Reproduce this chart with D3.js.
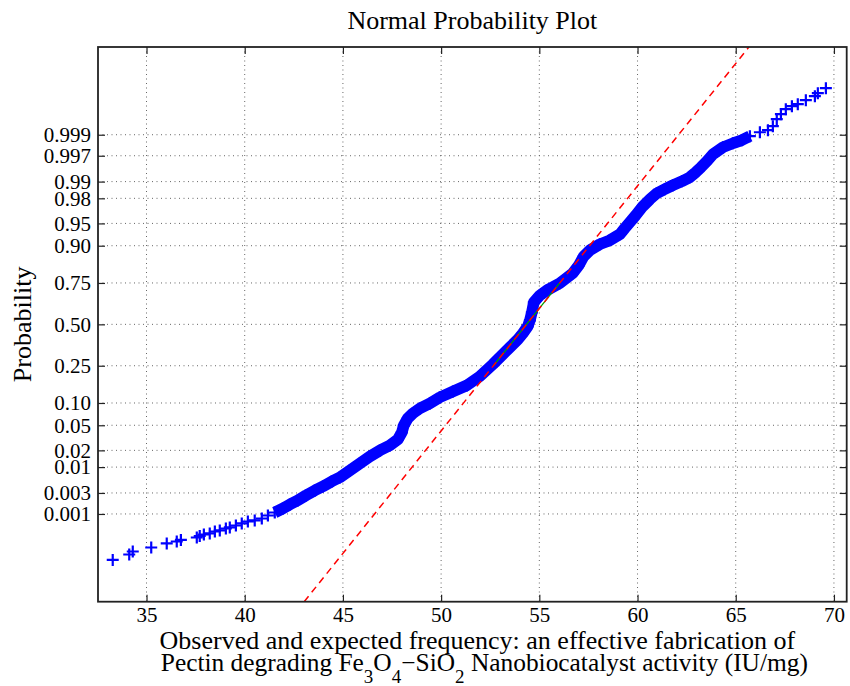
<!DOCTYPE html>
<html>
<head>
<meta charset="utf-8">
<script src="https://cdn.jsdelivr.net/npm/d3@7"></script>
<style>
  html, body { margin: 0; padding: 0; background: #fff; }
  svg text { font-family: "Liberation Serif", "Times New Roman", serif; fill: #000; }
</style>
</head>
<body>
<svg id="chart" width="850" height="686"></svg>
<script>
// Sorted activity values (IU/mg) and their normal scores (plotting positions on the z scale)
const activity = [
  33.28, 34.12, 34.30, 35.24, 36.03, 36.54, 36.75, 37.56, 37.71, 37.92,
  38.22, 38.48, 38.73, 39.04, 39.24, 39.55, 39.85, 40.16, 40.51, 40.87,
  41.18, 41.53, 41.94, 42.30, 42.70, 43.11, 43.57, 43.98, 44.43, 44.84,
  45.35, 45.86, 46.37, 46.88, 47.39, 47.80, 48.00, 48.10, 48.30, 48.56,
  48.92, 49.43, 49.93, 50.60, 51.31, 51.97, 52.63, 53.09, 53.50, 53.91,
  54.16, 54.41, 54.52, 54.62, 54.72, 55.03, 55.38, 56.04, 56.70, 57.01,
  57.26, 57.57, 58.08, 58.59, 59.10, 59.35, 59.61, 59.91, 60.27, 60.63,
  60.98, 61.39, 61.80, 62.26, 62.66, 62.97, 63.23, 63.53, 63.84, 64.35,
  64.86, 65.31, 65.72, 66.23, 66.64, 66.89, 67.09, 67.30, 67.55, 67.86,
  68.16, 68.57, 69.03, 69.18, 69.59
];
const normalScore = [
  -3.840, -3.751, -3.702, -3.637, -3.571, -3.539, -3.514, -3.474, -3.449, -3.425,
  -3.408, -3.376, -3.359, -3.327, -3.310, -3.278, -3.245, -3.213, -3.196, -3.164,
  -3.115, -3.066, -3.001, -2.935, -2.870, -2.789, -2.707, -2.642, -2.560, -2.495,
  -2.381, -2.267, -2.153, -2.055, -1.973, -1.875, -1.761, -1.647, -1.533, -1.451,
  -1.370, -1.288, -1.190, -1.093, -0.995, -0.848, -0.652, -0.506, -0.375, -0.245,
  -0.147, -0.033, 0.065, 0.196, 0.359, 0.473, 0.554, 0.669, 0.832, 0.962,
  1.109, 1.207, 1.305, 1.370, 1.468, 1.566, 1.663, 1.778, 1.924, 2.038,
  2.136, 2.202, 2.267, 2.332, 2.397, 2.479, 2.560, 2.658, 2.772, 2.886,
  2.952, 3.001, 3.066, 3.131, 3.164, 3.229, 3.343, 3.425, 3.506, 3.555,
  3.588, 3.653, 3.718, 3.767, 3.849
];

// Reference line through the first and third quartiles
const fitMean = 54.35;
const fitSigma = 2.505;
const quartileProbs = [0.25, 0.75];

const xTicks = [35, 40, 45, 50, 55, 60, 65, 70];
const probTicks = [0.001, 0.003, 0.01, 0.02, 0.05, 0.10, 0.25, 0.50, 0.75, 0.90, 0.95, 0.98, 0.99, 0.997, 0.999];
const probTickLabels = ["0.001", "0.003", "0.01", "0.02", "0.05", "0.10", "0.25", "0.50", "0.75", "0.90", "0.95", "0.98", "0.99", "0.997", "0.999"];

// Inverse standard normal CDF (Acklam's rational approximation)
function norminv(p) {
  const a = [-3.969683028665376e+01, 2.209460984245205e+02, -2.759285104469687e+02, 1.383577518672690e+02, -3.066479806614716e+01, 2.506628277459239e+00];
  const b = [-5.447609879822406e+01, 1.615858368580409e+02, -1.556989798598866e+02, 6.680131188771972e+01, -1.328068155288572e+01];
  const c = [-7.784894002430293e-03, -3.223964580411365e-01, -2.400758277161838e+00, -2.549732539343734e+00, 4.374664141464968e+00, 2.938163982698783e+00];
  const d = [7.784695709041462e-03, 3.224671290700398e-01, 2.445134137142996e+00, 3.754408661907416e+00];
  const pl = 0.02425;
  if (p < pl) {
    const q = Math.sqrt(-2 * Math.log(p));
    return (((((c[0]*q+c[1])*q+c[2])*q+c[3])*q+c[4])*q+c[5]) / ((((d[0]*q+d[1])*q+d[2])*q+d[3])*q+1);
  }
  if (p > 1 - pl) {
    const q = Math.sqrt(-2 * Math.log(1 - p));
    return -(((((c[0]*q+c[1])*q+c[2])*q+c[3])*q+c[4])*q+c[5]) / ((((d[0]*q+d[1])*q+d[2])*q+d[3])*q+1);
  }
  const q = p - 0.5, r = q * q;
  return (((((a[0]*r+a[1])*r+a[2])*r+a[3])*r+a[4])*r+a[5])*q / (((((b[0]*r+b[1])*r+b[2])*r+b[3])*r+b[4])*r+1);
}

const margin = { left: 98, right: 3.3, top: 47, bottom: 84.3 };
const W = 850, H = 686;
const plotW = W - margin.left - margin.right;
const plotH = H - margin.top - margin.bottom;

const svg = d3.select("#chart");
const g = svg.append("g").attr("transform", `translate(${margin.left},${margin.top})`);

const x = d3.scaleLinear().domain([32.53, 70.65]).range([0, plotW]);
const y = d3.scaleLinear().domain([-4.52, 4.52]).range([plotH, 0]);

const points = activity.map((v, i) => ({ v, z: normalScore[i] }));

// Dotted grid
const grid = g.append("g").attr("stroke", "#666").attr("stroke-width", 1).attr("stroke-dasharray", "1,3.5");
grid.selectAll("line.gx").data(xTicks).join("line")
  .attr("x1", d => x(d)).attr("x2", d => x(d)).attr("y1", 0).attr("y2", plotH);
grid.selectAll("line.gy").data(probTicks).join("line")
  .attr("y1", d => y(norminv(d))).attr("y2", d => y(norminv(d))).attr("x1", 0).attr("x2", plotW);

svg.append("defs").append("clipPath").attr("id", "plotclip")
  .append("rect").attr("width", plotW).attr("height", plotH);
const plot = g.append("g").attr("clip-path", "url(#plotclip)");

// Dense stretch of overlapping markers
const bandLimits = [-3.07, 3.07];
const line = d3.line().x(d => x(d.v)).y(d => y(d.z));
plot.append("path")
  .datum(points.filter(d => d.z >= bandLimits[0] && d.z <= bandLimits[1]))
  .attr("d", line)
  .attr("fill", "none").attr("stroke", "#0000ff").attr("stroke-width", 11.5)
  .attr("stroke-linejoin", "round");

// '+' markers
const arm = 6;
plot.append("g").selectAll("path").data(points).join("path")
  .attr("d", d => `M${x(d.v) - arm},${y(d.z)}H${x(d.v) + arm}M${x(d.v)},${y(d.z) - arm}V${y(d.z) + arm}`)
  .attr("stroke", "#0000ff").attr("stroke-width", 2.2).attr("fill", "none");

// Quartile segment (solid) and its dashed extension
const zq = quartileProbs.map(norminv);
plot.append("line")
  .attr("x1", x(fitMean + fitSigma * zq[0])).attr("y1", y(zq[0]))
  .attr("x2", x(fitMean + fitSigma * zq[1])).attr("y2", y(zq[1]))
  .attr("stroke", "#00a000").attr("stroke-width", 1.3);
const zEnds = y.domain();
plot.append("line")
  .attr("x1", x(fitMean + fitSigma * zEnds[0])).attr("y1", y(zEnds[0]))
  .attr("x2", x(fitMean + fitSigma * zEnds[1])).attr("y2", y(zEnds[1]))
  .attr("stroke", "#ff0000").attr("stroke-width", 1.5).attr("stroke-dasharray", "7,5");

// Axes with inward ticks on all four sides
const tickLen = 7;
const xAxis = g.append("g").attr("transform", `translate(0,${plotH})`)
  .call(d3.axisBottom(x).tickValues(xTicks).tickSizeInner(-tickLen).tickSizeOuter(0).tickPadding(5).tickFormat(d3.format("d")));
const xAxisTop = g.append("g")
  .call(d3.axisTop(x).tickValues(xTicks).tickSizeInner(-tickLen).tickSizeOuter(0).tickFormat(""));
const yAxis = g.append("g")
  .call(d3.axisLeft(y).tickValues(probTicks.map(norminv)).tickSizeInner(-tickLen).tickSizeOuter(0).tickPadding(7)
    .tickFormat((d, i) => probTickLabels[i]));
const yAxisRight = g.append("g").attr("transform", `translate(${plotW},0)`)
  .call(d3.axisRight(y).tickValues(probTicks.map(norminv)).tickSizeInner(-tickLen).tickSizeOuter(0).tickFormat(""));

[xAxis, xAxisTop, yAxis, yAxisRight].forEach(a => {
  a.select(".domain").remove();
  a.selectAll(".tick line").attr("stroke", "#222").attr("stroke-width", 1.2);
  a.selectAll("text").attr("font-family", "Liberation Serif, serif").attr("font-size", 21).attr("fill", "#000");
});

g.append("rect").attr("width", plotW).attr("height", plotH)
  .attr("fill", "none").attr("stroke", "#222").attr("stroke-width", 1.8);

// Title and axis labels
svg.append("text").attr("x", margin.left + plotW / 2).attr("y", 29)
  .attr("text-anchor", "middle").attr("font-size", 26).text("Normal Probability Plot");

svg.append("text").attr("transform", `translate(31,${margin.top + plotH / 2}) rotate(-90)`)
  .attr("text-anchor", "middle").attr("font-size", 26).text("Probability");

const xl = svg.append("text").attr("text-anchor", "middle");
xl.append("tspan").attr("x", margin.left + plotW / 2 + 5).attr("y", 649).attr("font-size", 26)
  .text("Observed and expected frequency: an effective fabrication of");
const l2 = xl.append("tspan").attr("x", margin.left + plotW / 2 + 12).attr("y", 671).attr("font-size", 25.4);
l2.append("tspan").text("Pectin degrading Fe");
l2.append("tspan").attr("dy", 12).attr("font-size", 19).text("3");
l2.append("tspan").attr("dy", -12).text("O");
l2.append("tspan").attr("dy", 12).attr("font-size", 19).text("4");
l2.append("tspan").attr("dy", -12).text("\u2212SiO");
l2.append("tspan").attr("dy", 12).attr("font-size", 19).text("2");
l2.append("tspan").attr("dy", -12).text(" Nanobiocatalyst activity (IU/mg)");
</script>
</body>
</html>
